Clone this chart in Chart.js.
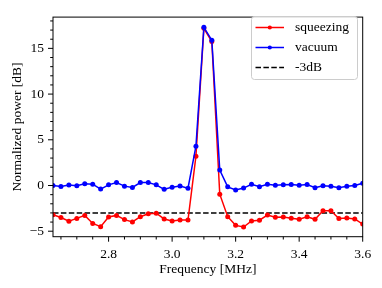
<!DOCTYPE html>
<html>
<head>
<meta charset="utf-8">
<script src="https://cdn.jsdelivr.net/npm/chart.js@4.4.1/dist/chart.umd.min.js"></script>
<style>
  html, body { margin: 0; padding: 0; background: #fff; }
  #wrap { width: 382px; height: 288px; }
</style>
</head>
<body>
<div id="wrap"><canvas id="powerChart" width="382" height="288"></canvas></div>
<script>
// frequency axis [MHz]
const freqs = [2.625, 2.65, 2.675, 2.7, 2.725, 2.75, 2.775, 2.8, 2.825, 2.85,
  2.875, 2.9, 2.925, 2.95, 2.975, 3.0, 3.025, 3.05, 3.075, 3.1,
  3.125, 3.15, 3.175, 3.2, 3.225, 3.25, 3.275, 3.3, 3.325, 3.35,
  3.375, 3.4, 3.425, 3.45, 3.475, 3.5, 3.525, 3.55, 3.575, 3.6];

// normalized power [dB]
const squeezing = [-3.2, -3.5, -3.9, -3.6, -3.27, -4.15, -4.5, -3.45, -3.27, -3.73,
  -3.98, -3.41, -3.1, -3.03, -3.66, -3.87, -3.77, -3.77, 3.2, 17.2,
  15.75, -0.95, -3.41, -4.36, -4.54, -3.87, -3.8, -3.24, -3.48, -3.45,
  -3.59, -3.7, -3.41, -3.7, -2.75, -2.75, -3.62, -3.55, -3.66, -4.22];

const vacuum = [0.0, -0.12, 0.05, -0.03, 0.18, 0.15, -0.39, 0.07, 0.32, -0.07,
  -0.21, 0.32, 0.32, 0.07, -0.42, -0.18, -0.05, -0.3, 4.3, 17.3,
  15.9, 1.7, -0.15, -0.49, -0.28, 0.14, -0.14, 0.14, 0.03, 0.07,
  0.1, 0.03, 0.1, -0.25, -0.03, -0.07, -0.25, -0.07, 0.0, 0.25];

const threshold = -3;
const thresholdSpan = [2.625, 3.6];

const xTicks = [2.8, 3.0, 3.2, 3.4, 3.6];
const yTicks = [-5, 0, 5, 10, 15];

const FONT = 'Liberation Serif';
const FS = 13.5;

const toPoints = (xs, ys) => xs.map((x, i) => ({ x: x, y: ys[i] }));

// frame + outward tick marks like matplotlib
const framePlugin = {
  id: 'frame',
  afterDraw(chart) {
    const ctx = chart.ctx;
    const a = chart.chartArea;
    const xs = chart.scales.x, ys = chart.scales.y;
    ctx.save();
    ctx.strokeStyle = '#000';
    ctx.lineWidth = 1;
    ctx.strokeRect(a.left, a.top, a.right - a.left, a.bottom - a.top);

    const tick = (x1, y1, x2, y2) => {
      ctx.beginPath(); ctx.moveTo(x1, y1); ctx.lineTo(x2, y2); ctx.stroke();
    };
    // x minor every 0.05, major every 0.2
    for (let v = 2.65; v <= 3.6001; v += 0.05) {
      const px = xs.getPixelForValue(v);
      const major = xTicks.some(t => Math.abs(t - v) < 1e-6);
      tick(px, a.bottom, px, a.bottom + (major ? 5 : 2.8));
    }
    // y minor every 1, major every 5
    for (let v = -5; v <= 18; v += 1) {
      const py = ys.getPixelForValue(v);
      const major = v % 5 === 0;
      tick(a.left, py, a.left - (major ? 5 : 2.8), py);
    }
    ctx.restore();
  }
};

// legend box inside the plot, upper right
const legendPlugin = {
  id: 'boxLegend',
  afterDraw(chart) {
    const ctx = chart.ctx;
    const bx = 251, by = 16.5, bw = 106, bh = 63;
    ctx.save();
    ctx.fillStyle = 'rgba(255,255,255,0.85)';
    ctx.strokeStyle = '#cccccc';
    ctx.lineWidth = 1;
    ctx.beginPath();
    ctx.roundRect(bx + 0.5, by, bw, bh, 3);
    ctx.fill();
    ctx.stroke();

    const order = ['squeezing', 'vacuum', '-3dB'];
    const rows = [27.5, 47.5, 67.5];
    order.forEach((label, i) => {
      const ds = chart.data.datasets.find(d => d.label === label);
      const y = rows[i];
      ctx.strokeStyle = ds.borderColor;
      ctx.lineWidth = ds.borderWidth;
      ctx.setLineDash(ds.borderDash || []);
      ctx.beginPath(); ctx.moveTo(255.5, y); ctx.lineTo(284, y); ctx.stroke();
      ctx.setLineDash([]);
      if (ds.pointRadius > 0) {
        ctx.fillStyle = ds.borderColor;
        ctx.beginPath(); ctx.arc(269.8, y, 2.1, 0, Math.PI * 2); ctx.fill();
      }
      ctx.fillStyle = '#000';
      ctx.font = FS + 'px "' + FONT + '"';
      ctx.textBaseline = 'middle';
      ctx.fillText(label, 295, y);
    });
    ctx.restore();
  }
};

function createChart() {
  const ctx = document.getElementById('powerChart').getContext('2d');
  new Chart(ctx, {
    type: 'line',
    data: {
      datasets: [
        {
          label: 'squeezing',
          data: toPoints(freqs, squeezing),
          borderColor: '#ff0000',
          backgroundColor: '#ff0000',
          borderWidth: 1.5,
          pointRadius: 2.5,
          pointBorderWidth: 0,
          tension: 0,
          order: 1
        },
        {
          label: 'vacuum',
          data: toPoints(freqs, vacuum),
          borderColor: '#0000ff',
          backgroundColor: '#0000ff',
          borderWidth: 1.5,
          pointRadius: 2.5,
          pointBorderWidth: 0,
          tension: 0,
          order: 0
        },
        {
          label: '-3dB',
          data: thresholdSpan.map(x => ({ x: x, y: threshold })),
          borderColor: '#000000',
          borderWidth: 1.5,
          borderDash: [5.5, 2.4],
          pointRadius: 0,
          order: 2
        }
      ]
    },
    options: {
      responsive: false,
      animation: false,
      layout: { padding: { top: 10, right: 19.3, left: 0, bottom: 0 } },
      plugins: { legend: { display: false }, tooltip: { enabled: false } },
      scales: {
        x: {
          type: 'linear',
          min: 2.625,
          max: 3.6,
          afterBuildTicks: s => { s.ticks = xTicks.map(v => ({ value: v })); },
          afterFit: s => { s.height = 51.3; },
          grid: { display: false, drawTicks: false },
          border: { display: false },
          ticks: {
            padding: 10,
            color: '#000',
            maxRotation: 0,
            font: { family: FONT, size: FS },
            callback: v => v.toFixed(1)
          },
          title: {
            display: true,
            text: 'Frequency [MHz]',
            color: '#000',
            font: { family: FONT, size: FS },
            padding: { top: 0, bottom: 10 }
          }
        },
        y: {
          min: -5.6,
          max: 18.42,
          afterBuildTicks: s => { s.ticks = yTicks.map(v => ({ value: v })); },
          afterFit: s => { s.width = 53; },
          grid: { display: false, drawTicks: false },
          border: { display: false },
          ticks: {
            padding: 9,
            color: '#000',
            font: { family: FONT, size: FS },
            callback: v => (v < 0 ? '\u2212' + Math.abs(v) : String(v))
          },
          title: {
            display: true,
            text: 'Normalized power [dB]',
            color: '#000',
            font: { family: FONT, size: FS },
            padding: { top: 9, bottom: 0 }
          }
        }
      }
    },
    plugins: [framePlugin, legendPlugin]
  });
}

document.addEventListener('DOMContentLoaded', createChart);
</script>
</body>
</html>
